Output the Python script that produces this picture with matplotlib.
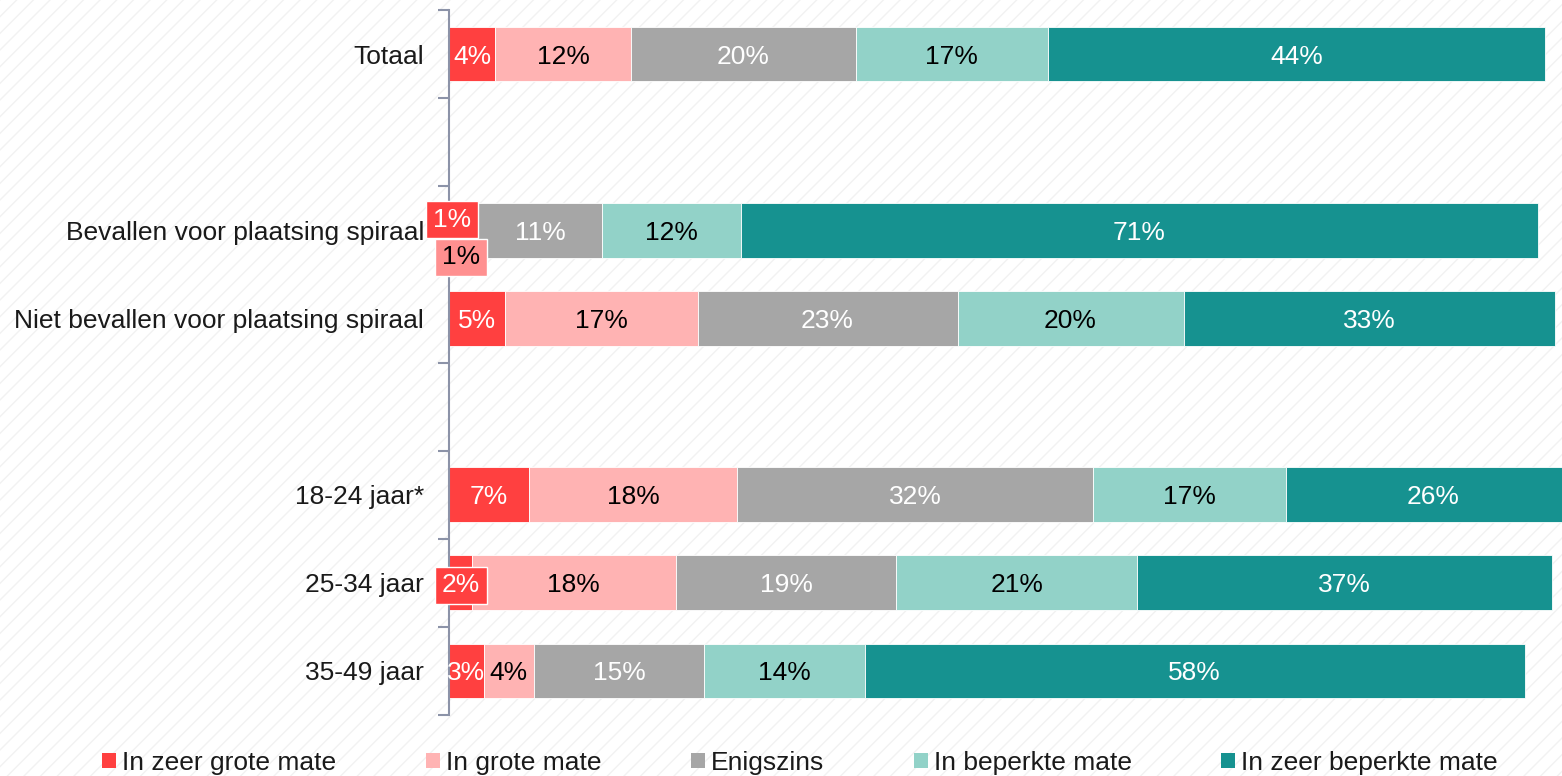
import numpy as np
import matplotlib.pyplot as plt
from matplotlib.patches import Rectangle, Patch

plt.rcParams['font.family'] = ['Liberation Sans', 'DejaVu Sans']

categories = ['Totaal', '', 'Bevallen voor plaatsing spiraal',
              'Niet bevallen voor plaatsing spiraal', '',
              '18-24 jaar*', '25-34 jaar', '35-49 jaar']
series = ['In zeer grote mate', 'In grote mate', 'Enigszins',
          'In beperkte mate', 'In zeer beperkte mate']

zeer_groot = [4.1, 0, 1.3, 5.0, 0, 7.1, 2.0, 3.1]
groot = [12.0, 0, 1.3, 17.0, 0, 18.4, 18.1, 4.4]
enigszins = [19.9, 0, 10.9, 23.0, 0, 31.5, 19.5, 15.1]
beperkt = [17.0, 0, 12.3, 20.0, 0, 17.1, 21.3, 14.2]
zeer_beperkt = [44.0, 0, 70.6, 32.9, 0, 26.0, 36.7, 58.4]

shown = [[4, 0, 1, 5, 0, 7, 2, 3],
         [12, 0, 1, 17, 0, 18, 18, 4],
         [20, 0, 11, 23, 0, 32, 19, 15],
         [17, 0, 12, 20, 0, 17, 21, 14],
         [44, 0, 71, 33, 0, 26, 37, 58]]

colors = ['#FF4040', '#FFB3B3', '#A6A6A6', '#92D2C8', '#169290']
text_colors = ['white', 'black', 'white', 'black', 'white']

# labels drawn as callout boxes instead of inside the bar
boxed = {(0, 2): (0.27, -0.15), (1, 2): (1.06, 0.28), (0, 6): (1.06, 0.0)}


def main():
    fig = plt.figure(figsize=(15.62, 7.76), dpi=100)

    # hatched background
    fig.patches.append(Rectangle((0, 0), 1, 1, transform=fig.transFigure,
                                 facecolor='white', edgecolor='#f2f2f2',
                                 hatch='//', linewidth=0, zorder=-10))

    ax = fig.add_axes([449 / 1562, 1 - 715 / 776, 1130 / 1562, 705 / 776])
    ax.patch.set_alpha(0)

    data = [zeer_groot, groot, enigszins, beperkt, zeer_beperkt]
    y = np.arange(len(categories))
    left = np.zeros(len(categories))
    for i, vals in enumerate(data):
        vals = np.array(vals)
        ax.barh(y, vals, left=left, height=0.62, color=colors[i],
                edgecolor='white', linewidth=0.6, label=series[i])
        for j, v in enumerate(vals):
            if v == 0:
                continue
            txt = f'{shown[i][j]}%'
            if (i, j) in boxed:
                dx, dy = boxed[(i, j)]
                ax.text(dx, j + dy, txt, ha='center', va='center_baseline',
                        fontsize=19, color=text_colors[i], zorder=5,
                        bbox=dict(boxstyle='square,pad=0.25', fc=colors[i] if i == 0 else '#FF9090',
                                  ec='white', lw=1))
            else:
                ax.text(left[j] + v / 2, j, txt, ha='center', va='center_baseline',
                        fontsize=19, color=text_colors[i])
        left += vals

    ax.set_xlim(0, 100)
    ax.set_ylim(len(categories) - 0.5, -0.5)
    ax.set_xticks([])
    ax.set_yticks(y)
    ax.set_yticklabels(categories, fontsize=19, color='#1a1a1a')
    ax.tick_params(axis='y', which='major', length=0, pad=18)
    ax.set_yticks(np.arange(-0.5, len(categories)), minor=True)
    ax.tick_params(axis='y', which='minor', length=8, width=1.5, color='#8C93A8')
    for s in ['top', 'right', 'bottom']:
        ax.spines[s].set_visible(False)
    ax.spines['left'].set_color('#8C93A8')
    ax.spines['left'].set_linewidth(1.5)

    handles = [Patch(facecolor=c, edgecolor='none') for c in colors]
    fig.legend(handles, series, loc='center', bbox_to_anchor=(800 / 1562, 1 - 763 / 776),
               ncol=5, frameon=False, fontsize=19, handlelength=0.53, handleheight=0.53,
               handletextpad=0.22, columnspacing=3.4, labelcolor='#1a1a1a',
               borderpad=0, borderaxespad=0)

    fig.savefig('out.png', dpi=100)


if __name__ == "__main__":
    main()
